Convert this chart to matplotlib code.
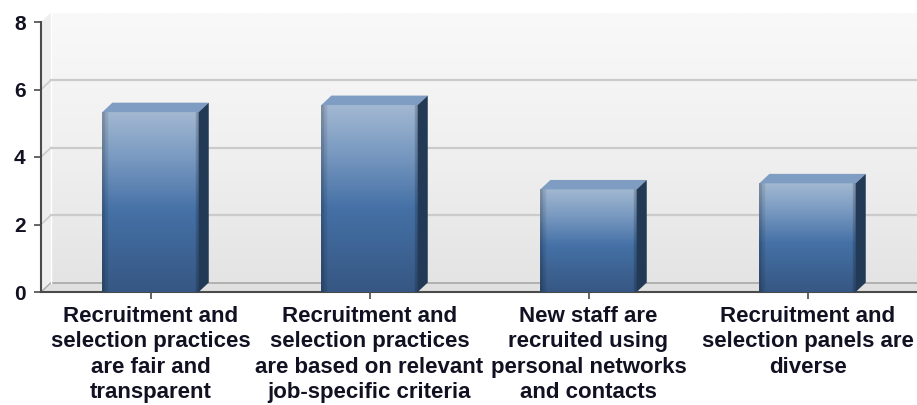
import numpy as np
import matplotlib.pyplot as plt
from matplotlib.colors import LinearSegmentedColormap
from matplotlib.patches import Polygon

# data
categories = [
    "Recruitment and\nselection practices\nare fair and\ntransparent",
    "Recruitment and\nselection practices\nare based on relevant\njob-specific criteria",
    "New staff are\nrecruited using\npersonal networks\nand contacts",
    "Recruitment and\nselection panels are\ndiverse",
]
values = [5.33, 5.54, 3.04, 3.22]
y_ticks = [0, 2, 4, 6, 8]

# 3d look
DX, DY = 0.046, 0.28
BAR_W = 0.44
XMAX = len(categories)

plt.rcParams['font.family'] = ['Liberation Sans', 'DejaVu Sans']

fig = plt.figure(figsize=(9.17, 4.05), dpi=100)
ax = fig.add_axes([41 / 917, (405 - 292) / 405, 876 / 917, 270 / 405])
ax.patch.set_visible(False)

# back wall
wall_cmap = LinearSegmentedColormap.from_list('wall', ['#e4e4e4', '#f0f0f0', '#f9f9f9'])
wall = wall_cmap(np.linspace(0, 1, 256).reshape(-1, 1))[:, :, :3]
im = ax.imshow(wall, extent=[DX, XMAX + 0.2, DY, y_ticks[-1] + DY], origin='lower',
               aspect='auto', zorder=0, interpolation='bilinear')
im.set_clip_on(False)

# left wall and floor
ax.add_patch(Polygon([(0, 0), (DX, DY), (DX, y_ticks[-1] + DY), (0, y_ticks[-1])],
                     closed=True, facecolor='#eeeeee', edgecolor='none', zorder=0.5, clip_on=False))
ax.add_patch(Polygon([(0, 0), (XMAX + 0.2, 0), (XMAX + 0.2, DY), (DX, DY)],
                     closed=True, facecolor='#e0e0e0', edgecolor='none', zorder=0.5, clip_on=False))
ax.plot([DX, XMAX + 0.2], [DY, DY], color='#a8a8a8', lw=1.2, zorder=0.6, clip_on=False)
ax.plot([0, DX], [0, DY], color='#a8a8a8', lw=1.0, zorder=0.6, clip_on=False)
ax.plot([DX, DX], [DY, y_ticks[-1] + DY], color='#ffffff', lw=1.0, zorder=0.6, clip_on=False)

# grid on the back wall (no line on the top edge)
for t in y_ticks[1:-1]:
    ax.plot([DX, XMAX + 0.2], [t + DY, t + DY], color='#cbcbcb', lw=1.6, zorder=0.7, clip_on=False)
    ax.plot([0, DX], [t, t + DY], color='#cbcbcb', lw=1.2, zorder=0.7, clip_on=False)

# bars
front_cmap = LinearSegmentedColormap.from_list(
    'front', [(0, '#365783'), (0.45, '#4571a6'), (0.75, '#7a9ac1'), (1, '#a2b8d2')])
grad = front_cmap(np.linspace(0, 1, 256).reshape(-1, 1))[:, :, :3]
face = np.repeat(grad, 64, axis=1)
face[:, :2] *= 0.78
face[:, 2:4] *= 0.9
face[:, -2:] *= 0.8

for i, v in enumerate(values):
    x0 = i + 0.5 - BAR_W / 2
    x1 = x0 + BAR_W
    ax.imshow(face, extent=[x0, x1, 0, v], origin='lower', aspect='auto',
              zorder=3, interpolation='bilinear')
    ax.add_patch(Polygon([(x0, v), (x1, v), (x1 + DX, v + DY), (x0 + DX, v + DY)],
                         closed=True, facecolor='#7f9dc2', edgecolor='none', zorder=3))
    ax.add_patch(Polygon([(x1, 0), (x1 + DX, DY), (x1 + DX, v + DY), (x1, v)],
                         closed=True, facecolor='#233a57', edgecolor='none', zorder=3))

ax.set_xlim(0, XMAX)
ax.set_ylim(0, y_ticks[-1])

for side in ['top', 'right']:
    ax.spines[side].set_visible(False)
for side in ['left', 'bottom']:
    ax.spines[side].set_color('#4a4a4a')
    ax.spines[side].set_linewidth(1.5)

ax.set_yticks(y_ticks)
ax.set_yticklabels([str(t) for t in y_ticks], fontsize=15, fontweight='bold', color='#111122')
ax.set_xticks([i + 0.5 for i in range(len(categories))])
ax.set_xticklabels(categories, fontsize=16, fontweight='bold', color='#111122', linespacing=1.28)
ax.tick_params(axis='y', length=5, width=1.2, color='#4a4a4a', pad=6)
ax.tick_params(axis='x', length=5, width=1.2, color='#4a4a4a', pad=5)

fig.savefig('out.png', dpi=100)
